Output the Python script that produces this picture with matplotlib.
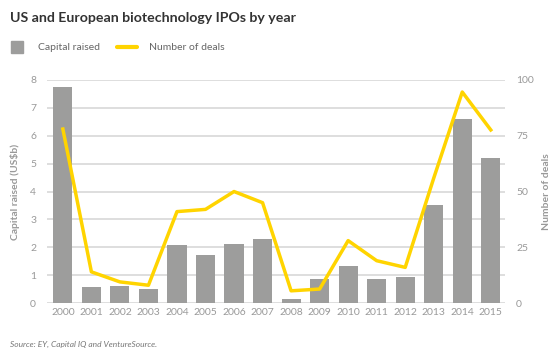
import matplotlib
matplotlib.use('Agg')
import matplotlib.pyplot as plt
import numpy as np
from matplotlib.patches import Rectangle
from matplotlib.lines import Line2D

years = ['2000', '2001', '2002', '2003', '2004', '2005', '2006', '2007',
         '2008', '2009', '2010', '2011', '2012', '2013', '2014', '2015']
capital = [7.75, 0.57, 0.6, 0.5, 2.08, 1.72, 2.11, 2.29,
           0.14, 0.86, 1.33, 0.86, 0.93, 3.51, 6.6, 5.2]
deals = [78, 14, 9.5, 8, 41, 42, 50, 45, 5.5, 6.3, 28, 19, 16, 56, 94.6, 77.6]

bar_col = '#9d9d9c'
line_col = '#ffd400'
txt_col = '#999999'
grid_col = '#d4d4d4'

plt.rcParams['font.family'] = ['Lato', 'DejaVu Sans']

fig = plt.figure(figsize=(5.55, 3.57), dpi=100)
ax = fig.add_axes([0.085, 0.151, 0.825, 0.625])
x = np.arange(len(years))

ax.bar(x, capital, width=0.67, color=bar_col, zorder=2)
ax.set_ylim(0, 8)
ax.set_xlim(-0.55, 15.5)
ax.set_yticks(range(9))
ax.yaxis.grid(True, color=grid_col, linewidth=1.1, zorder=0)
ax.set_axisbelow(True)
for s in ax.spines.values():
    s.set_visible(False)
ax.tick_params(length=0, colors=txt_col, labelsize=7.5)
ax.tick_params(axis='y', pad=8)
ax.set_xticks(x)
ax.set_xticklabels(years)
ax.set_ylabel('Capital raised (US$b)', color=txt_col, fontsize=7.5,
              fontweight='bold', labelpad=7)

ax2 = ax.twinx()
ax2.plot(x, deals, color=line_col, linewidth=2.5, zorder=3)
ax2.set_ylim(0, 100)
ax2.set_yticks([0, 25, 50, 75, 100])
for s in ax2.spines.values():
    s.set_visible(False)
ax2.tick_params(length=0, colors=txt_col, labelsize=7.5, pad=8)
ax2.set_ylabel('Number of deals', color=txt_col, fontsize=7.5,
               fontweight='bold', labelpad=6)

fig.text(0.018, 0.95, 'US and European biotechnology IPOs by year',
         fontsize=10.2, fontweight='bold', color='#333333', va='center')

# legend
fig.patches.append(Rectangle((11 / 555, 1 - 53 / 357), 12 / 555, 12 / 357,
                             transform=fig.transFigure, color=bar_col))
fig.text(38 / 555, 1 - 47 / 357, 'Capital raised', fontsize=7.5,
         color='#666666', va='center')
fig.lines.append(Line2D([117 / 555, 137 / 555], [1 - 47 / 357, 1 - 47 / 357],
                        transform=fig.transFigure, color=line_col, linewidth=3,
                        solid_capstyle='round'))
fig.text(149 / 555, 1 - 47 / 357, 'Number of deals', fontsize=7.5,
         color='#666666', va='center')

fig.text(0.018, 1 - 344 / 357, 'Source: EY, Capital IQ and VentureSource.',
         fontsize=6, style='italic', color='#777777', va='center')

fig.savefig('out.png', dpi=100)
